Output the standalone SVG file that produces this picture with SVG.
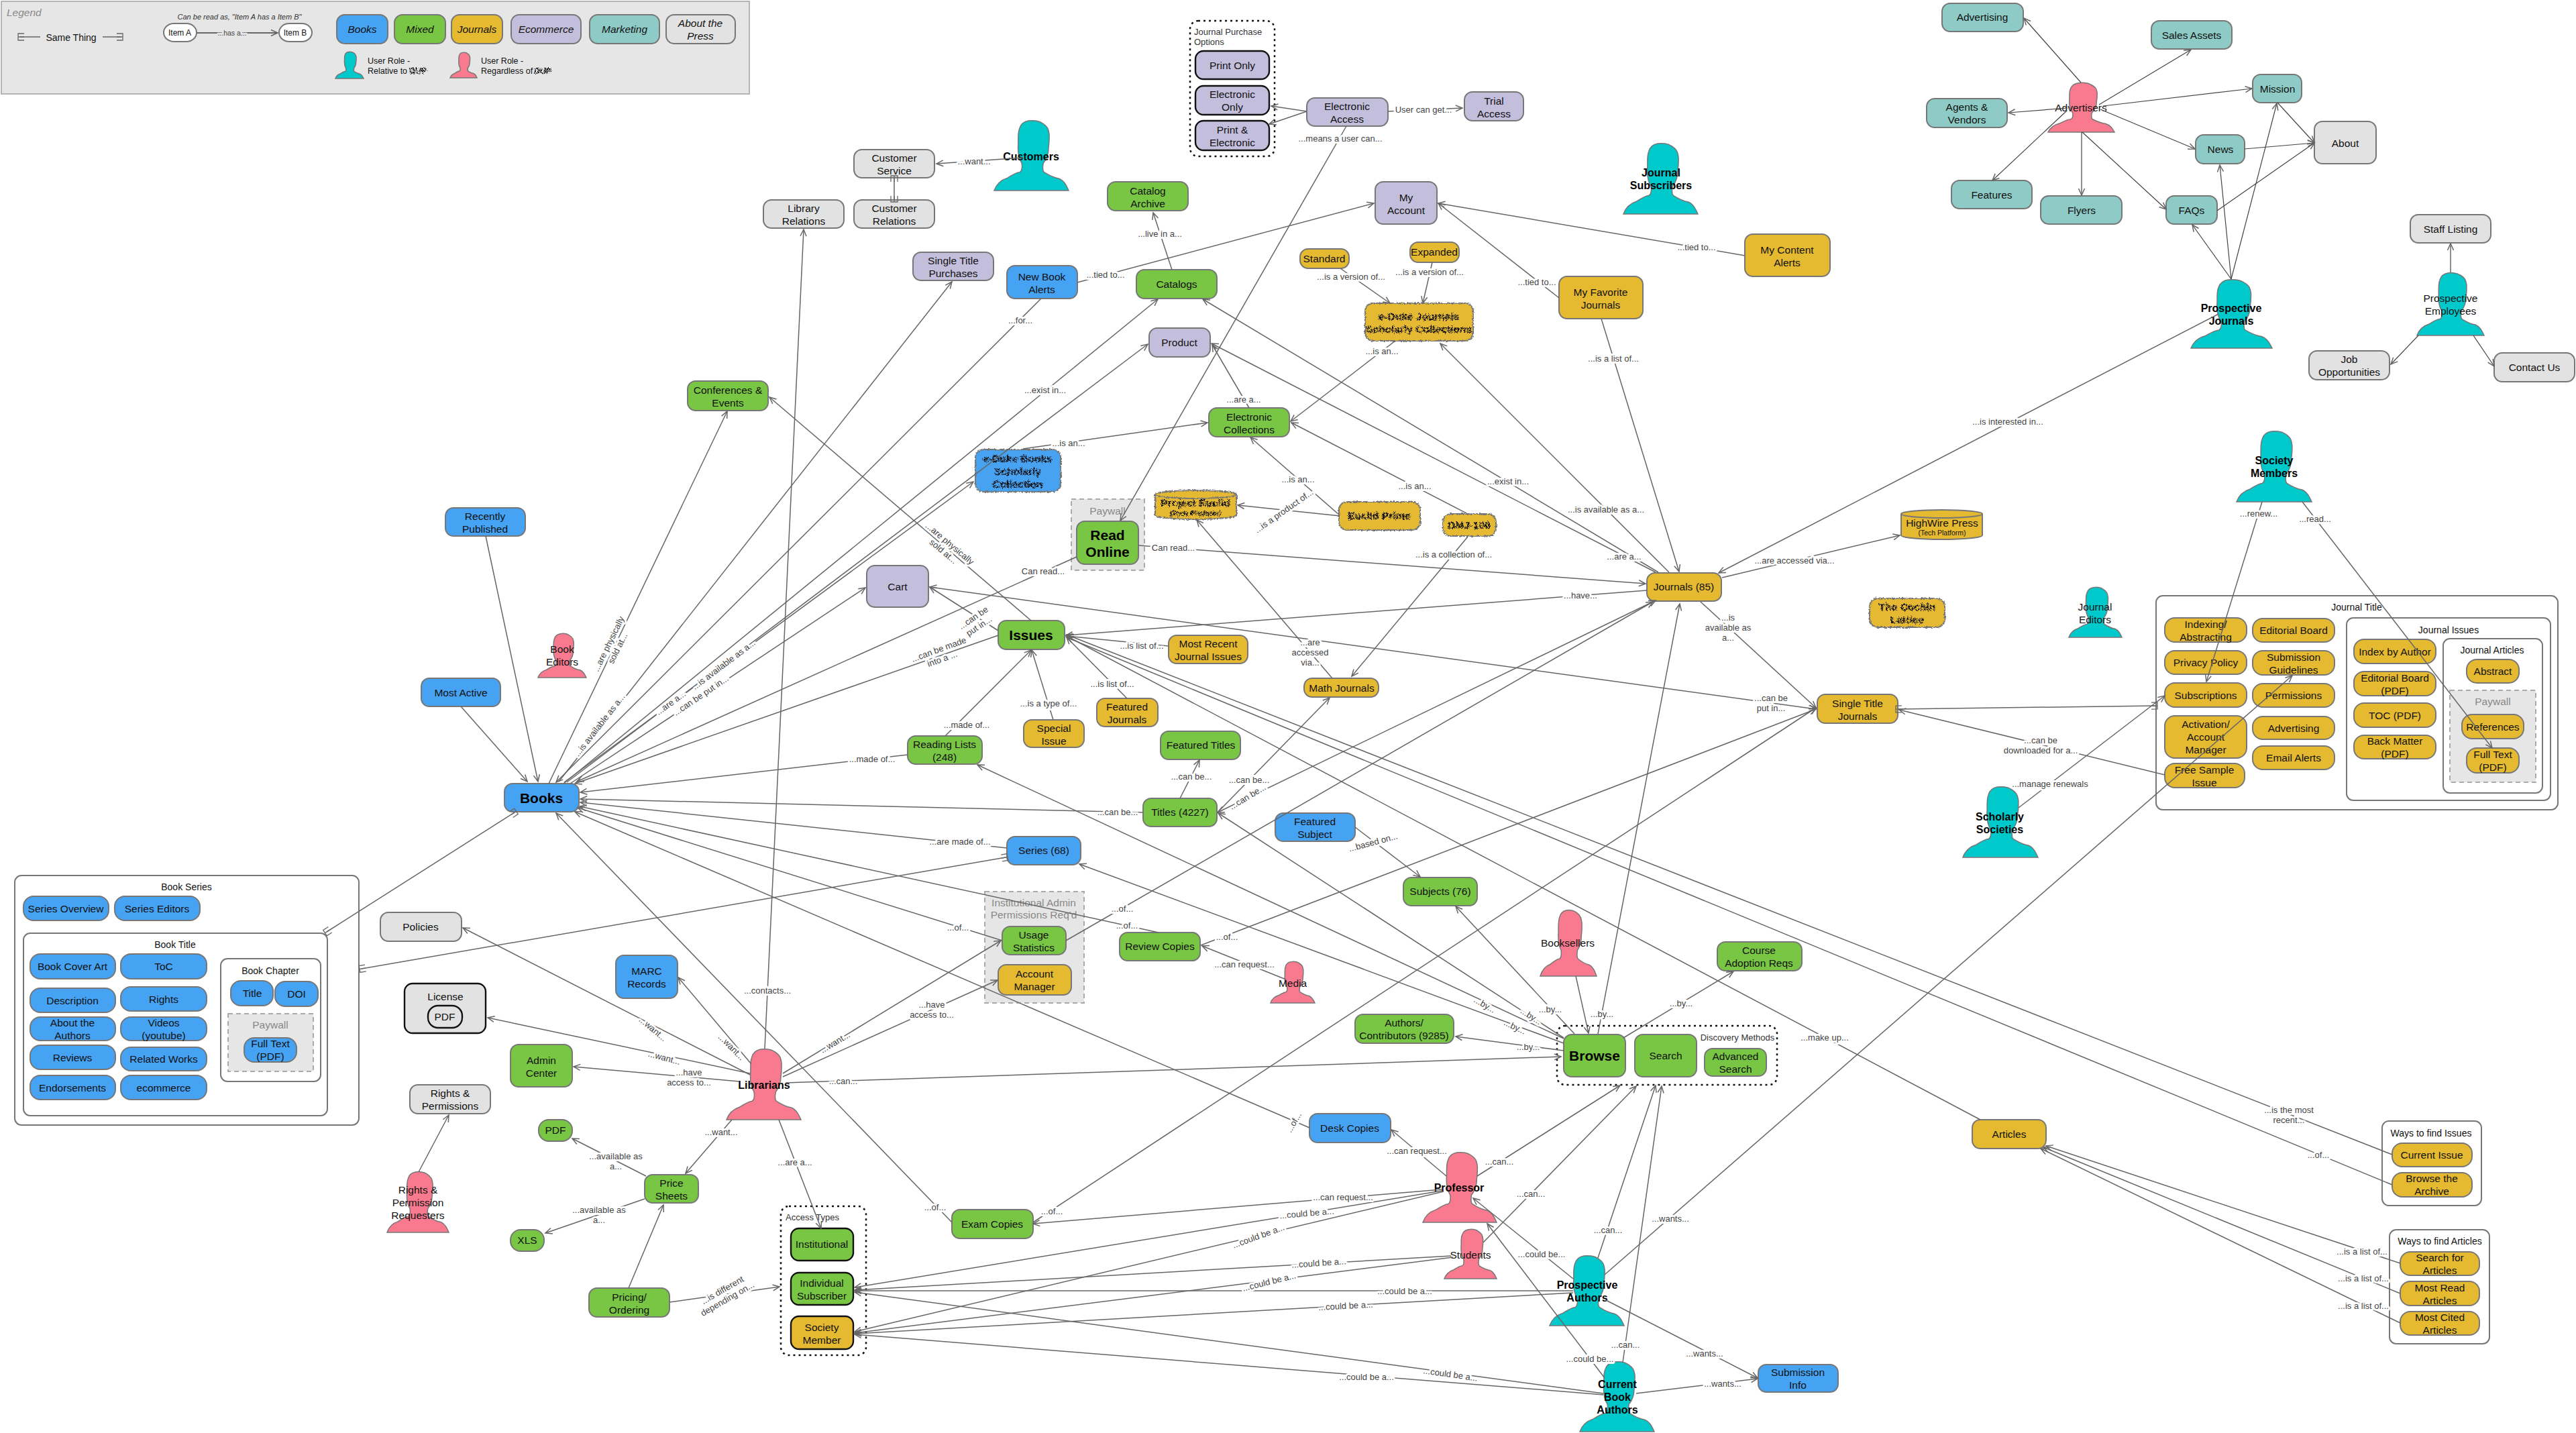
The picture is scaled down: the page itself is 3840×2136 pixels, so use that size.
<svg xmlns="http://www.w3.org/2000/svg" width="3840" height="2136" viewBox="0 0 3840 2136">
<style>
text{font-family:"Liberation Sans",Arial,sans-serif;font-size:15.5px;fill:#111;text-anchor:middle}
rect.n{stroke:#777;stroke-width:2;rx:12px;ry:12px}
rect.p{rx:15px;ry:15px}
.b{fill:#46a2f2}.g{fill:#78c644}.y{fill:#e5b930}.e{fill:#c3bedb}.m{fill:#8ecbc6}.a{fill:#e2e2e2}.w{fill:#fff}
rect.k,path.k{stroke:#111;stroke-width:2.4}
rect.box{fill:#fff;stroke:#777;stroke-width:2;rx:10px;ry:10px}
rect.dot{fill:#fff;stroke:#111;stroke-width:2.5;stroke-dasharray:3 5;rx:12px;ry:12px}
rect.pay{fill:#e6e6e6;stroke:#aaa;stroke-width:2;stroke-dasharray:7 5}
.h{font-size:14px}.cap{font-size:13px;fill:#333}.gr{fill:#888}.sm{font-size:10.5px}
.bd{font-weight:bold;font-size:16px;fill:#000}.big{font-weight:bold;font-size:21px;fill:#000}
.it{font-style:italic}.st{text-anchor:start}
.pc{fill:#00c9cc}.pk{fill:#f97a8e}
.per{stroke:#777;stroke-width:1.5}
.per path,.per use{vector-effect:non-scaling-stroke}
#connectors path{fill:none;stroke:#666;stroke-width:1.5;marker-end:url(#arr)}
#connectors path.s,#legend path.s{fill:none;stroke:#666;stroke-width:1.5;marker-start:url(#same);marker-end:url(#same)}
#connectors path.f{stroke:#444;stroke-width:1.2}
#connectors path.d{marker-start:url(#arrS)}
#connectors text,#legend text.l{font-size:13px;fill:#444;stroke:#fff;stroke-width:6px;paint-order:stroke;stroke-linejoin:round}
#legend text.l{stroke:#e6e6e6;font-size:10.5px}
.nz{filter:url(#noise)}
.nzt{filter:url(#noiseT);font-weight:bold}
</style>
<defs>
<marker id="arr" markerUnits="userSpaceOnUse" markerWidth="14" markerHeight="12" refX="11" refY="6" orient="auto"><path d="M1,1.5 L11,6 L1,10.5" fill="none" stroke="#666" stroke-width="1.5"/></marker>
<marker id="arrS" markerUnits="userSpaceOnUse" markerWidth="14" markerHeight="12" refX="3" refY="6" orient="auto"><path d="M13,1.5 L3,6 L13,10.5" fill="none" stroke="#666" stroke-width="1.5"/></marker>
<marker id="same" markerUnits="userSpaceOnUse" markerWidth="14" markerHeight="14" refX="7" refY="7" orient="auto-start-reverse"><path d="M1,2 H10 V12 H1 M1,7 H10" fill="none" stroke="#666" stroke-width="1.3"/></marker>
<symbol id="person" viewBox="0 0 100 100" preserveAspectRatio="none" overflow="visible"><path vector-effect="non-scaling-stroke" d="M0,100C3,91 9,85 18,82C24,78 30,74 34,74C37,73 38,67 37,61C34,56 32,47 32,39C33,29 31,20 34,12C36,5 40,2 46,1C52,0 60,1 64,4C72,9 73,13 74,21C74,28 74,32 73,39C73,48 70,56 66,61C65,67 65,72 67,74C73,78 79,82 87,83C94,86 97,93 100,100Z"/></symbol>
<filter id="noise" x="-5%" y="-10%" width="110%" height="120%"><feTurbulence type="fractalNoise" baseFrequency="0.45" numOctaves="1" seed="4"/><feDisplacementMap in="SourceGraphic" scale="5" xChannelSelector="R" yChannelSelector="G"/></filter>
<filter id="noiseT" x="-5%" y="-10%" width="110%" height="120%"><feTurbulence type="fractalNoise" baseFrequency="0.7" numOctaves="2" seed="9"/><feDisplacementMap in="SourceGraphic" scale="7" xChannelSelector="R" yChannelSelector="G"/></filter>
</defs>
<rect width="3840" height="2136" fill="#fff"/>

<g id="legend">
<rect x="2" y="2" width="1115" height="138" fill="#e6e6e6" stroke="#b5b5b5" stroke-width="2"/>
<text class="it gr st" x="10" y="24" font-size="14">Legend</text>
<path class="s" d="M30,55H60M153,55H180"/>
<text x="106" y="61" style="font-size:14px">Same Thing</text>
<text class="it" x="357" y="29" style="font-size:11px;fill:#333">Can be read as, "Item A has a Item B"</text>
<path d="M293,49H414" fill="none" stroke="#666" stroke-width="2" marker-end="url(#arr)"/>
<rect class="n w p" x="244" y="35" width="49" height="27"/><text x="268" y="53" style="font-size:12px">Item A</text>
<rect class="n w p" x="416" y="35" width="49" height="27"/><text x="440" y="53" style="font-size:12px">Item B</text>
<text class="l" x="346" y="53">...has a...</text>
<rect class="n b" x="502" y="22" width="76" height="43"/><text class="it" x="540" y="49">Books</text>
<rect class="n g" x="588" y="22" width="76" height="43"/><text class="it" x="626" y="49">Mixed</text>
<rect class="n y" x="673" y="22" width="76" height="43"/><text class="it" x="711" y="49">Journals</text>
<rect class="n e" x="762" y="22" width="104" height="43"/><text class="it" x="814" y="49">Ecommerce</text>
<rect class="n m" x="879" y="22" width="104" height="43"/><text class="it" x="931" y="49">Marketing</text>
<rect class="n a" x="993" y="22" width="103" height="43"/><text class="it" x="1044" y="40">About the<tspan x="1044" dy="19">Press</tspan></text>
<g class="per pc"><use href="#person" x="500" y="77" width="42" height="40"/></g>
<text class="st" x="548" y="95" style="font-size:12.5px">User Role -<tspan x="548" dy="15">Relative to</tspan></text>
<text class="st nzt" x="610" y="110" style="font-size:12.5px">DUP</text>
<g class="per pk"><use href="#person" x="671" y="78" width="40" height="38"/></g>
<text class="st" x="717" y="95" style="font-size:12.5px">User Role -<tspan x="717" dy="15">Regardless of</tspan></text>
<text class="st nzt" x="796" y="110" style="font-size:12.5px">DUP</text>
</g>

<g id="nodes">
<g id="journal-purchase-options"><rect class="dot" x="1774" y="31" width="126" height="202"/><text class="cap st" x="1780" y="52">Journal Purchase<tspan x="1780" dy="15">Options</tspan></text></g>
<g id="print-only"><rect class="n e k" x="1782" y="76" width="110" height="42"/><text x="1837" y="103">Print Only</text></g>
<g id="electronic-only"><rect class="n e k" x="1782" y="128" width="110" height="43"/><text x="1837" y="146">Electronic<tspan x="1837" dy="19">Only</tspan></text></g>
<g id="print-electronic"><rect class="n e k" x="1782" y="180" width="110" height="44"/><text x="1837" y="199">Print &amp;<tspan x="1837" dy="19">Electronic</tspan></text></g>
<g id="electronic-access"><rect class="n e" x="1948" y="146" width="121" height="42"/><text x="2008" y="164">Electronic<tspan x="2008" dy="19">Access</tspan></text></g>
<g id="trial-access"><rect class="n e" x="2183" y="137" width="88" height="43"/><text x="2227" y="156">Trial<tspan x="2227" dy="19">Access</tspan></text></g>
<g id="customer-service"><rect class="n a" x="1273" y="223" width="120" height="42"/><text x="1333" y="241">Customer<tspan x="1333" dy="19">Service</tspan></text></g>
<g id="customer-relations"><rect class="n a" x="1273" y="298" width="120" height="42"/><text x="1333" y="316">Customer<tspan x="1333" dy="19">Relations</tspan></text></g>
<g id="library-relations"><rect class="n a" x="1138" y="298" width="120" height="42"/><text x="1198" y="316">Library<tspan x="1198" dy="19">Relations</tspan></text></g>
<g id="catalog-archive"><rect class="n g" x="1651" y="271" width="120" height="43"/><text x="1711" y="290">Catalog<tspan x="1711" dy="19">Archive</tspan></text></g>
<g id="my-account"><rect class="n e" x="2050" y="271" width="92" height="63"/><text x="2096" y="300">My<tspan x="2096" dy="19">Account</tspan></text></g>
<g id="single-title-purchases"><rect class="n e" x="1361" y="376" width="120" height="42"/><text x="1421" y="394">Single Title<tspan x="1421" dy="19">Purchases</tspan></text></g>
<g id="new-book-alerts"><rect class="n b" x="1501" y="396" width="105" height="49"/><text x="1553" y="418">New Book<tspan x="1553" dy="19">Alerts</tspan></text></g>
<g id="catalogs"><rect class="n g" x="1694" y="402" width="120" height="43"/><text x="1754" y="429">Catalogs</text></g>
<g id="standard"><rect class="n y" x="1938" y="371" width="73" height="29"/><text x="1974" y="391">Standard</text></g>
<g id="expanded"><rect class="n y" x="2102" y="361" width="73" height="30"/><text x="2138" y="381">Expanded</text></g>
<g id="e-duke-journals"><rect class="n y nz" x="2035" y="452" width="161" height="56"/><text class="nzt" x="2115" y="477">e-Duke Journals<tspan x="2115" dy="19">Scholarly Collections</tspan></text></g>
<g id="my-favorite-journals"><rect class="n y" x="2324" y="412" width="125" height="63"/><text x="2386" y="441">My Favorite<tspan x="2386" dy="19">Journals</tspan></text></g>
<g id="my-content-alerts"><rect class="n y" x="2601" y="349" width="127" height="63"/><text x="2664" y="378">My Content<tspan x="2664" dy="19">Alerts</tspan></text></g>
<g id="product"><rect class="n e" x="1713" y="489" width="91" height="43"/><text x="1758" y="516">Product</text></g>
<g id="electronic-collections"><rect class="n g" x="1802" y="608" width="120" height="43"/><text x="1862" y="627">Electronic<tspan x="1862" dy="19">Collections</tspan></text></g>
<g id="conferences"><rect class="n g" x="1025" y="568" width="120" height="44"/><text x="1085" y="587">Conferences &amp;<tspan x="1085" dy="19">Events</tspan></text></g>
<g id="e-duke-books"><rect class="n b nz" x="1454" y="670" width="127" height="63"/><text class="nzt" x="1517" y="689">e-Duke Books<tspan x="1517" dy="19">Scholarly</tspan><tspan x="1517" dy="19">Collection</tspan></text></g>
<g id="paywall-read"><rect class="pay" x="1597" y="744" width="109" height="106"/><text class="gr" x="1651" y="767">Paywall</text></g>
<g id="read-online"><rect class="n g" x="1605" y="777" width="92" height="64"/><text class="big" x="1651" y="805">Read<tspan x="1651" dy="25">Online</tspan></text></g>
<g id="project-euclid"><path class="y nz" stroke="#777" stroke-width="2" d="M1722,737A60,6 0 0 1 1843,737V768A60,6 0 0 1 1722,768Z"/><path class="nz" fill="none" stroke="#777" stroke-width="2" d="M1722,737A60,6 0 0 0 1843,737"/><text class="nzt" x="1782" y="755">Project Euclid<tspan class="sm" x="1782" dy="14">(Tech Platform)</tspan></text></g>
<g id="euclid-prime"><rect class="n y nz" x="1996" y="748" width="121" height="42"/><text class="nzt" x="2056" y="774">Euclid Prime</text></g>
<g id="dmj-100"><rect class="n y nz" x="2151" y="766" width="79" height="33"/><text class="nzt" x="2190" y="788">DMJ-100</text></g>
<g id="cochin-lattice"><rect class="n y nz" x="2787" y="892" width="112" height="43"/><text class="nzt" x="2843" y="910">The Cochin<tspan x="2843" dy="19">Lattice</tspan></text></g>
<g id="highwire"><path class="y" stroke="#777" stroke-width="2" d="M2834,766A60,6 0 0 1 2955,766V798A60,6 0 0 1 2834,798Z"/><path fill="none" stroke="#777" stroke-width="2" d="M2834,766A60,6 0 0 0 2955,766"/><text x="2895" y="785">HighWire Press<tspan class="sm" x="2895" dy="13">(Tech Platform)</tspan></text></g>
<g id="cart"><rect class="n e" x="1292" y="843" width="92" height="62"/><text x="1338" y="880">Cart</text></g>
<g id="issues"><rect class="n g" x="1488" y="925" width="99" height="43"/><text class="big" x="1537" y="954">Issues</text></g>
<g id="most-recent"><rect class="n y" x="1742" y="947" width="118" height="42"/><text x="1801" y="965">Most Recent<tspan x="1801" dy="19">Journal Issues</tspan></text></g>
<g id="math-journals"><rect class="n y" x="1944" y="1011" width="111" height="28"/><text x="2000" y="1031">Math Journals</text></g>
<g id="featured-journals"><rect class="n y" x="1635" y="1041" width="91" height="42"/><text x="1680" y="1059">Featured<tspan x="1680" dy="19">Journals</tspan></text></g>
<g id="special-issue"><rect class="n y" x="1526" y="1073" width="90" height="41"/><text x="1571" y="1091">Special<tspan x="1571" dy="19">Issue</tspan></text></g>
<g id="reading-lists"><rect class="n g" x="1353" y="1097" width="111" height="42"/><text x="1408" y="1115">Reading Lists<tspan x="1408" dy="19">(248)</tspan></text></g>
<g id="featured-titles"><rect class="n g" x="1730" y="1090" width="119" height="42"/><text x="1790" y="1116">Featured Titles</text></g>
<g id="titles"><rect class="n g" x="1704" y="1190" width="110" height="42"/><text x="1759" y="1216">Titles (4227)</text></g>
<g id="featured-subject"><rect class="n b" x="1901" y="1212" width="119" height="42"/><text x="1960" y="1230">Featured<tspan x="1960" dy="19">Subject</tspan></text></g>
<g id="series"><rect class="n b" x="1501" y="1247" width="110" height="42"/><text x="1556" y="1273">Series (68)</text></g>
<g id="subjects"><rect class="n g" x="2092" y="1308" width="110" height="42"/><text x="2147" y="1334">Subjects (76)</text></g>
<g id="review-copies"><rect class="n g" x="1669" y="1390" width="120" height="42"/><text x="1729" y="1416">Review Copies</text></g>
<g id="institutional-admin"><rect class="pay" x="1468" y="1329" width="148" height="166"/><text class="gr" x="1541" y="1351">Institutional Admin<tspan x="1541" dy="18">Permissions Req'd</tspan></text></g>
<g id="usage-statistics"><rect class="n g" x="1494" y="1381" width="95" height="42"/><text x="1541" y="1399">Usage<tspan x="1541" dy="19">Statistics</tspan></text></g>
<g id="account-manager"><rect class="n y" x="1488" y="1438" width="109" height="45"/><text x="1542" y="1457">Account<tspan x="1542" dy="19">Manager</tspan></text></g>
<g id="journals"><rect class="n y" x="2455" y="854" width="111" height="42"/><text x="2510" y="880">Journals (85)</text></g>
<g id="single-title-journals"><rect class="n y" x="2709" y="1035" width="120" height="43"/><text x="2769" y="1054">Single Title<tspan x="2769" dy="19">Journals</tspan></text></g>

<g id="journal-title"><rect class="box" x="3214" y="888" width="599" height="319"/><text class="h" x="3513" y="910">Journal Title</text></g>
<g id="indexing"><rect class="n y p" x="3227" y="921" width="122" height="36"/><text x="3288" y="936">Indexing/<tspan x="3288" dy="19">Abstracting</tspan></text></g>
<g id="editorial-board"><rect class="n y p" x="3358" y="922" width="122" height="35"/><text x="3419" y="945">Editorial Board</text></g>
<g id="privacy-policy"><rect class="n y p" x="3227" y="970" width="122" height="35"/><text x="3288" y="993">Privacy Policy</text></g>
<g id="submission-guidelines"><rect class="n y p" x="3358" y="970" width="122" height="36"/><text x="3419" y="985">Submission<tspan x="3419" dy="19">Guidelines</tspan></text></g>
<g id="subscriptions"><rect class="n y p" x="3227" y="1018" width="122" height="36"/><text x="3288" y="1042">Subscriptions</text></g>
<g id="permissions"><rect class="n y p" x="3358" y="1019" width="122" height="35"/><text x="3419" y="1042">Permissions</text></g>
<g id="activation"><rect class="n y p" x="3227" y="1067" width="122" height="63"/><text x="3288" y="1085">Activation/<tspan x="3288" dy="19">Account</tspan><tspan x="3288" dy="19">Manager</tspan></text></g>
<g id="advertising-j"><rect class="n y p" x="3358" y="1068" width="122" height="34"/><text x="3419" y="1091">Advertising</text></g>
<g id="email-alerts"><rect class="n y p" x="3358" y="1112" width="122" height="35"/><text x="3419" y="1135">Email Alerts</text></g>
<g id="free-sample"><rect class="n y p" x="3227" y="1138" width="119" height="36"/><text x="3286" y="1153">Free Sample<tspan x="3286" dy="19">Issue</tspan></text></g>
<g id="journal-issues"><rect class="box" x="3498" y="921" width="304" height="272"/><text class="h" x="3650" y="944">Journal Issues</text></g>
<g id="index-author"><rect class="n y p" x="3509" y="953" width="122" height="36"/><text x="3570" y="977">Index by Author</text></g>
<g id="editorial-pdf"><rect class="n y p" x="3509" y="1001" width="122" height="36"/><text x="3570" y="1016">Editorial Board<tspan x="3570" dy="19">(PDF)</tspan></text></g>
<g id="toc-pdf"><rect class="n y p" x="3509" y="1048" width="122" height="36"/><text x="3570" y="1072">TOC (PDF)</text></g>
<g id="back-matter"><rect class="n y p" x="3509" y="1096" width="122" height="35"/><text x="3570" y="1110">Back Matter<tspan x="3570" dy="19">(PDF)</tspan></text></g>
<g id="journal-articles"><rect class="box" x="3642" y="952" width="148" height="230"/><text class="h" x="3715" y="974">Journal Articles</text></g>
<g id="abstract"><rect class="n y p" x="3677" y="983" width="78" height="35"/><text x="3716" y="1006">Abstract</text></g>
<g id="paywall-j"><rect class="pay" x="3652" y="1029" width="128" height="137"/><text class="gr" x="3716" y="1051">Paywall</text></g>
<g id="references"><rect class="n y p" x="3670" y="1065" width="92" height="36"/><text x="3716" y="1089">References</text></g>
<g id="full-text-j"><rect class="n y p" x="3677" y="1115" width="78" height="37"/><text x="3716" y="1130">Full Text<tspan x="3716" dy="19">(PDF)</tspan></text></g>

<g id="advertising"><rect class="n m" x="2895" y="5" width="121" height="42"/><text x="2955" y="31">Advertising</text></g>
<g id="sales-assets"><rect class="n m" x="3207" y="31" width="120" height="42"/><text x="3267" y="58">Sales Assets</text></g>
<g id="mission"><rect class="n m" x="3358" y="111" width="73" height="42"/><text x="3395" y="138">Mission</text></g>
<g id="agents"><rect class="n m" x="2872" y="147" width="120" height="43"/><text x="2932" y="165">Agents &amp;<tspan x="2932" dy="19">Vendors</tspan></text></g>
<g id="news"><rect class="n m" x="3273" y="201" width="73" height="43"/><text x="3310" y="228">News</text></g>
<g id="about"><rect class="n a" x="3450" y="181" width="92" height="63"/><text x="3496" y="219">About</text></g>
<g id="features"><rect class="n m" x="2909" y="269" width="120" height="42"/><text x="2969" y="296">Features</text></g>
<g id="flyers"><rect class="n m" x="3042" y="292" width="121" height="42"/><text x="3103" y="319">Flyers</text></g>
<g id="faqs"><rect class="n m" x="3229" y="292" width="76" height="42"/><text x="3267" y="319">FAQs</text></g>
<g id="staff-listing"><rect class="n a" x="3593" y="320" width="120" height="42"/><text x="3653" y="347">Staff Listing</text></g>
<g id="job-opportunities"><rect class="n a" x="3442" y="523" width="120" height="43"/><text x="3502" y="541">Job<tspan x="3502" dy="19">Opportunities</tspan></text></g>
<g id="contact-us"><rect class="n a" x="3718" y="526" width="120" height="43"/><text x="3778" y="553">Contact Us</text></g>

<g id="recently-published"><rect class="n b" x="664" y="757" width="119" height="42"/><text x="723" y="775">Recently<tspan x="723" dy="19">Published</tspan></text></g>
<g id="most-active"><rect class="n b" x="628" y="1011" width="118" height="42"/><text x="687" y="1038">Most Active</text></g>
<g id="books"><rect class="n b" x="752" y="1168" width="111" height="42"/><text class="big" x="807" y="1197">Books</text></g>
<g id="book-series"><rect class="box" x="22" y="1305" width="513" height="372"/><text class="h" x="278" y="1327">Book Series</text></g>
<g id="series-overview"><rect class="n b p" x="35" y="1336" width="127" height="36"/><text x="98" y="1360">Series Overview</text></g>
<g id="series-editors"><rect class="n b p" x="171" y="1336" width="127" height="36"/><text x="234" y="1360">Series Editors</text></g>
<g id="book-title"><rect class="box" x="35" y="1391" width="453" height="272"/><text class="h" x="261" y="1413">Book Title</text></g>
<g id="book-cover"><rect class="n b p" x="45" y="1422" width="127" height="37"/><text x="108" y="1446">Book Cover Art</text></g>
<g id="toc"><rect class="n b p" x="180" y="1422" width="128" height="37"/><text x="244" y="1446">ToC</text></g>
<g id="description"><rect class="n b p" x="45" y="1473" width="127" height="36"/><text x="108" y="1497">Description</text></g>
<g id="rights"><rect class="n b p" x="180" y="1471" width="128" height="36"/><text x="244" y="1495">Rights</text></g>
<g id="about-authors"><rect class="n b p" x="45" y="1516" width="127" height="35"/><text x="108" y="1530">About the<tspan x="108" dy="19">Authors</tspan></text></g>
<g id="videos"><rect class="n b p" x="180" y="1516" width="128" height="35"/><text x="244" y="1530">Videos<tspan x="244" dy="19">(youtube)</tspan></text></g>
<g id="reviews"><rect class="n b p" x="45" y="1558" width="127" height="36"/><text x="108" y="1582">Reviews</text></g>
<g id="related-works"><rect class="n b p" x="180" y="1561" width="128" height="35"/><text x="244" y="1584">Related Works</text></g>
<g id="endorsements"><rect class="n b p" x="45" y="1603" width="127" height="36"/><text x="108" y="1627">Endorsements</text></g>
<g id="ecommerce"><rect class="n b p" x="180" y="1603" width="128" height="36"/><text x="244" y="1627">ecommerce</text></g>
<g id="book-chapter"><rect class="box" x="329" y="1429" width="149" height="183"/><text class="h" x="403" y="1452">Book Chapter</text></g>
<g id="chapter-title"><rect class="n b p" x="344" y="1462" width="63" height="37"/><text x="376" y="1486">Title</text></g>
<g id="doi"><rect class="n b p" x="410" y="1463" width="64" height="37"/><text x="442" y="1487">DOI</text></g>
<g id="paywall-b"><rect class="pay" x="340" y="1511" width="127" height="86"/><text class="gr" x="403" y="1533">Paywall</text></g>
<g id="full-text-b"><rect class="n b p" x="364" y="1547" width="78" height="36"/><text x="403" y="1561">Full Text<tspan x="403" dy="19">(PDF)</tspan></text></g>
<g id="policies"><rect class="n a" x="567" y="1360" width="121" height="43"/><text x="627" y="1387">Policies</text></g>
<g id="marc"><rect class="n b" x="918" y="1424" width="92" height="64"/><text x="964" y="1453">MARC<tspan x="964" dy="19">Records</tspan></text></g>
<g id="license"><rect class="n a k" x="603" y="1466" width="121" height="74"/><text x="664" y="1491">License</text></g>
<g id="license-pdf"><rect class="n a k p" x="638" y="1499" width="51" height="33"/><text x="663" y="1521">PDF</text></g>
<g id="admin-center"><rect class="n g" x="761" y="1557" width="92" height="63"/><text x="807" y="1586">Admin<tspan x="807" dy="19">Center</tspan></text></g>
<g id="rights-permissions"><rect class="n a" x="611" y="1617" width="120" height="43"/><text x="671" y="1635">Rights &amp;<tspan x="671" dy="19">Permissions</tspan></text></g>
<g id="pdf"><rect class="n g p" x="803" y="1669" width="50" height="32"/><text x="828" y="1690">PDF</text></g>
<g id="price-sheets"><rect class="n g" x="961" y="1751" width="80" height="42"/><text x="1001" y="1769">Price<tspan x="1001" dy="19">Sheets</tspan></text></g>
<g id="xls"><rect class="n g p" x="761" y="1833" width="50" height="32"/><text x="786" y="1854">XLS</text></g>
<g id="pricing"><rect class="n g" x="878" y="1920" width="120" height="43"/><text x="938" y="1939">Pricing/<tspan x="938" dy="19">Ordering</tspan></text></g>
<g id="access-types"><rect class="dot" x="1164" y="1798" width="127" height="222"/><text class="cap st" x="1171" y="1819">Access Types</text></g>
<g id="institutional"><rect class="n g k" x="1179" y="1831" width="93" height="48"/><text x="1225" y="1860">Institutional</text></g>
<g id="individual"><rect class="n g k" x="1179" y="1897" width="93" height="48"/><text x="1225" y="1918">Individual<tspan x="1225" dy="19">Subscriber</tspan></text></g>
<g id="society-member"><rect class="n y k" x="1179" y="1962" width="93" height="49"/><text x="1225" y="1984">Society<tspan x="1225" dy="19">Member</tspan></text></g>

<g id="authors"><rect class="n g" x="2020" y="1512" width="147" height="43"/><text x="2093" y="1530">Authors/<tspan x="2093" dy="19">Contributors (9285)</tspan></text></g>
<g id="discovery"><rect class="dot" x="2321" y="1529" width="328" height="88"/><text class="cap" x="2590" y="1551">Discovery Methods</text></g>
<g id="browse"><rect class="n g" x="2331" y="1542" width="92" height="63"/><text class="big" x="2377" y="1581">Browse</text></g>
<g id="search"><rect class="n g" x="2437" y="1542" width="92" height="63"/><text x="2483" y="1579">Search</text></g>
<g id="advanced-search"><rect class="n g" x="2541" y="1563" width="92" height="41"/><text x="2587" y="1580">Advanced<tspan x="2587" dy="19">Search</tspan></text></g>
<g id="course-adoption"><rect class="n g" x="2560" y="1404" width="126" height="43"/><text x="2622" y="1422">Course<tspan x="2622" dy="19">Adoption Reqs</tspan></text></g>
<g id="desk-copies"><rect class="n b" x="1952" y="1660" width="121" height="43"/><text x="2012" y="1687">Desk Copies</text></g>
<g id="exam-copies"><rect class="n g" x="1419" y="1803" width="121" height="43"/><text x="1479" y="1830">Exam Copies</text></g>
<g id="submission-info"><rect class="n b" x="2621" y="2034" width="119" height="41"/><text x="2680" y="2051">Submission<tspan x="2680" dy="19">Info</tspan></text></g>
<g id="articles"><rect class="n y" x="2940" y="1669" width="110" height="43"/><text x="2995" y="1696">Articles</text></g>
<g id="ways-issues"><rect class="box" x="3551" y="1671" width="148" height="126"/><text class="h" x="3624" y="1694">Ways to find Issues</text></g>
<g id="current-issue"><rect class="n y p" x="3566" y="1704" width="119" height="35"/><text x="3625" y="1727">Current Issue</text></g>
<g id="browse-archive"><rect class="n y p" x="3566" y="1748" width="119" height="36"/><text x="3625" y="1762">Browse the<tspan x="3625" dy="19">Archive</tspan></text></g>
<g id="ways-articles"><rect class="box" x="3562" y="1833" width="149" height="170"/><text class="h" x="3637" y="1855">Ways to find Articles</text></g>
<g id="search-articles"><rect class="n y p" x="3578" y="1866" width="118" height="35"/><text x="3637" y="1880">Search for<tspan x="3637" dy="19">Articles</tspan></text></g>
<g id="most-read"><rect class="n y p" x="3578" y="1910" width="118" height="36"/><text x="3637" y="1925">Most Read<tspan x="3637" dy="19">Articles</tspan></text></g>
<g id="most-cited"><rect class="n y p" x="3578" y="1955" width="118" height="35"/><text x="3637" y="1969">Most Cited<tspan x="3637" dy="19">Articles</tspan></text></g>

<g id="role-customers" class="per pc"><use href="#person" x="1482" y="179" width="111" height="105"/><text class="bd" x="1537" y="239" stroke="none">Customers</text></g>
<g id="role-journal-subscribers" class="per pc"><use href="#person" x="2420" y="213" width="111" height="106"/><text class="bd" x="2476" y="263" stroke="none">Journal<tspan x="2476" dy="19">Subscribers</tspan></text></g>
<g id="role-advertisers" class="per pk"><use href="#person" x="3053" y="123" width="99" height="74"/><text x="3102" y="166" stroke="none">Advertisers</text></g>
<g id="role-prospective-journals" class="per pc"><use href="#person" x="3266" y="416" width="121" height="103"/><text class="bd" x="3326" y="465" stroke="none">Prospective<tspan x="3326" dy="19">Journals</tspan></text></g>
<g id="role-prospective-employees" class="per pc"><use href="#person" x="3603" y="406" width="100" height="94"/><text x="3653" y="450" stroke="none">Prospective<tspan x="3653" dy="19">Employees</tspan></text></g>
<g id="role-society-members" class="per pc"><use href="#person" x="3334" y="642" width="112" height="106"/><text class="bd" x="3390" y="692" stroke="none">Society<tspan x="3390" dy="19">Members</tspan></text></g>
<g id="role-journal-editors" class="per pc"><use href="#person" x="3084" y="875" width="79" height="75"/><text x="3123" y="910" stroke="none">Journal<tspan x="3123" dy="19">Editors</tspan></text></g>
<g id="role-scholarly-societies" class="per pc"><use href="#person" x="2926" y="1172" width="112" height="106"/><text class="bd" x="2981" y="1223" stroke="none">Scholarly<tspan x="2981" dy="19">Societies</tspan></text></g>
<g id="role-book-editors" class="per pk"><use href="#person" x="802" y="944" width="72" height="66"/><text x="838" y="973" stroke="none">Book<tspan x="838" dy="19">Editors</tspan></text></g>
<g id="role-booksellers" class="per pk"><use href="#person" x="2296" y="1356" width="84" height="99"/><text x="2337" y="1411" stroke="none">Booksellers</text></g>
<g id="role-media" class="per pk"><use href="#person" x="1894" y="1433" width="66" height="62"/><text x="1927" y="1471" stroke="none">Media</text></g>
<g id="role-librarians" class="per pk"><use href="#person" x="1083" y="1563" width="111" height="106"/><text class="bd" x="1139" y="1623" stroke="none">Librarians</text></g>
<g id="role-rights-requesters" class="per pk"><use href="#person" x="577" y="1746" width="92" height="91"/><text x="623" y="1779" stroke="none">Rights &amp;<tspan x="623" dy="19">Permission</tspan><tspan x="623" dy="19">Requesters</tspan></text></g>
<g id="role-professor" class="per pk"><use href="#person" x="2121" y="1717" width="110" height="105"/><text class="bd" x="2175" y="1776" stroke="none">Professor</text></g>
<g id="role-students" class="per pk"><use href="#person" x="2153" y="1832" width="78" height="74"/><text x="2192" y="1876" stroke="none">Students</text></g>
<g id="role-prospective-authors" class="per pc"><use href="#person" x="2310" y="1871" width="111" height="105"/><text class="bd" x="2366" y="1921" stroke="none">Prospective<tspan x="2366" dy="19">Authors</tspan></text></g>
<g id="role-current-book-authors" class="per pc"><use href="#person" x="2355" y="2029" width="111" height="105"/><text class="bd" x="2411" y="2069" stroke="none">Current<tspan x="2411" dy="19">Book</tspan><tspan x="2411" dy="19">Authors</tspan></text></g>
</g>

<g id="connectors">
<path d="M1525,235L1396,244"/>
<path class="s" d="M1333,265L1333,298"/>
<path d="M1948,166L1895,158"/>
<path d="M1948,166L1892,185"/>
<path d="M2069,166L2180,161"/>
<path d="M2007,188L1670,776"/>
<path d="M1747,402L1719,317"/>
<path d="M1606,421L2048,303"/>
<path d="M2324,444L2144,303"/>
<path d="M2601,381L2144,303"/>
<path d="M1998,400L2072,452"/>
<path d="M2135,391L2121,452"/>
<path d="M2080,508L1924,628"/>
<path d="M2387,475L2503,852"/>
<path d="M2488,853L2147,512"/>
<path d="M2472,853L1793,446"/>
<path d="M2468,853L1806,512"/>
<path d="M1862,608L1807,514"/>
<path d="M845,1166L1711,513"/>
<path d="M840,1168L1726,446"/>
<path d="M833,1165L1419,420"/>
<path d="M818,1168L1084,613"/>
<path d="M1552,445L829,1166"/>
<path d="M1525,669L1800,630"/>
<path d="M841,1166L1451,718"/>
<path d="M850,1168L1290,876"/>
<path d="M1488,947L857,1168"/>
<path d="M1605,830L860,1165"/>
<path d="M1537,925L1147,592"/>
<path d="M1488,940L1386,875"/>
<path d="M2455,880L1589,947"/>
<path d="M1742,963L1589,948"/>
<path d="M1680,1041L1590,950"/>
<path d="M1570,1073L1538,969"/>
<path d="M1409,1097L1537,969"/>
<path d="M1353,1125L865,1181"/>
<path d="M1704,1211L865,1191"/>
<path d="M1501,1264L865,1196"/>
<path d="M1727,1390L864,1202"/>
<path d="M1494,1402L861,1204"/>
<path d="M1952,1681L857,1210"/>
<path d="M1419,1822L829,1212"/>
<path d="M1540,1822L2707,1055"/>
<path d="M1790,1409L2707,1057"/>
<path d="M1589,1402L2464,897"/>
<path d="M1167,1600L1492,1402"/>
<path d="M1167,1605L1487,1461"/>
<path d="M1118,1602L690,1383"/>
<path d="M1118,1600L727,1517"/>
<path d="M1120,1586L1011,1457"/>
<path d="M1140,1563L1198,342"/>
<path d="M1102,1612L855,1590"/>
<path d="M1171,1614L2327,1575"/>
<path d="M1091,1669L1022,1749"/>
<path d="M1161,1669L1224,1831"/>
<path d="M963,1753L853,1697"/>
<path d="M961,1787L813,1838"/>
<path d="M937,1920L989,1796"/>
<path d="M998,1941L1162,1918"/>
<path d="M624,1747L669,1662"/>
<path class="s" d="M487,1389L767,1211"/>
<path class="s" d="M539,1444L1499,1278"/>
<path d="M724,799L802,1165"/>
<path d="M687,1053L786,1165"/>
<path d="M1759,1190L1788,1133"/>
<path d="M1815,1211L1982,1040"/>
<path class="d" d="M1815,1211L2468,895"/>
<path d="M2331,1566L2170,1545"/>
<path d="M2331,1555L1609,1288"/>
<path d="M2331,1548L1457,1140"/>
<path d="M2331,1547L1816,1212"/>
<path d="M2347,1541L2170,1351"/>
<path d="M2349,1455L2368,1540"/>
<path d="M2382,1541L2504,900"/>
<path d="M2420,1547L2584,1448"/>
<path d="M2952,1669L1590,948"/>
<path d="M3566,1721L1590,946"/>
<path d="M3566,1766L1590,950"/>
<path d="M3578,1883L3050,1708"/>
<path d="M3578,1928L3046,1710"/>
<path d="M3578,1972L3042,1712"/>
<path d="M1986,1011L1784,775"/>
<path d="M1997,769L1845,753"/>
<path d="M1997,768L1864,652"/>
<path d="M2186,765L1925,630"/>
<path d="M2188,800L2015,1008"/>
<path class="d" d="M2707,1057L1386,875"/>
<path d="M2535,897L2707,1055"/>
<path d="M2567,861L2832,798"/>
<path d="M1697,813L2453,870"/>
<path d="M3307,468L2562,854"/>
<path class="s" d="M2829,1057L3213,1052"/>
<path d="M3227,1155L2831,1058"/>
<path d="M3009,1204L3227,1037"/>
<path d="M3372,748L3289,1016"/>
<path d="M3432,748L3715,1115"/>
<path d="M2392,1900L3417,1007"/>
<path d="M2394,1938L2620,2054"/>
<path d="M2439,2077L2620,2055"/>
<path d="M2382,1875L2468,1618"/>
<path d="M2419,2031L2477,1619"/>
<path d="M2202,1753L2415,1618"/>
<path d="M2211,1852L2439,1619"/>
<path d="M2156,1753L2074,1684"/>
<path d="M2149,1773L1540,1824"/>
<path d="M2149,1775L1274,1919"/>
<path d="M2152,1776L1274,1985"/>
<path d="M2163,1872L1274,1923"/>
<path d="M2166,1874L1274,1987"/>
<path d="M2345,1924L1274,1924"/>
<path d="M2345,1927L1274,1988"/>
<path d="M2390,2077L1274,1926"/>
<path d="M2390,2079L1274,1989"/>
<path d="M2345,1906L2196,1786"/>
<path d="M2392,2054L2217,1824"/>
<path d="M1917,1460L1792,1410"/>
<path d="M2020,1233L2117,1307"/>
<path class="f" d="M3102,123L3017,27"/>
<path class="f" d="M3129,156L3266,74"/>
<path class="f" d="M3135,158L3357,132"/>
<path class="f" d="M3082,161L2994,168"/>
<path class="f" d="M3131,163L3272,222"/>
<path class="f" d="M3081,165L2970,269"/>
<path class="f" d="M3103,197L3103,291"/>
<path class="f" d="M3104,197L3229,312"/>
<path class="f" d="M3346,222L3450,213"/>
<path class="f" d="M3395,153L3450,213"/>
<path class="f" d="M3305,314L3450,213"/>
<path class="f" d="M3326,416L3268,335"/>
<path class="f" d="M3326,416L3309,246"/>
<path class="f" d="M3326,416L3394,154"/>
<path class="f" d="M3653,406L3653,363"/>
<path class="f" d="M3605,500L3564,543"/>
<path class="f" d="M3687,500L3718,546"/>

<text x="1452" y="245">...want...</text>
<text x="2122" y="168">User can get...</text>
<text x="1998" y="211">...means a user can...</text>
<text x="1729" y="353">...live in a...</text>
<text x="1648" y="414">...tied to...</text>
<text x="2291" y="425">...tied to...</text>
<text x="2529" y="373">...tied to...</text>
<text x="2014" y="417">...is a version of...</text>
<text x="2131" y="410">...is a version of...</text>
<text x="2060" y="528">...is an...</text>
<text x="2405" y="539">...is a list of...</text>
<text x="2394" y="764">...is available as a...</text>
<text x="2248" y="722">...exist in...</text>
<text x="2421" y="834">...are a...</text>
<text x="1854" y="600">...are a...</text>
<text x="1558" y="586">...exist in...</text>
<text x="1521" y="482">...for...</text>
<text x="1593" y="665">...is an...</text>
<text x="894" y="1085" transform="rotate(-52 894 1081)">...is available as a...</text>
<text x="914" y="960" transform="rotate(-64 914 963)">...are physically<tspan x="914" dy="15">sold at...</tspan></text>
<text x="1000" y="1052" transform="rotate(-36 1000 1048)">...are a...</text>
<text x="1079" y="995" transform="rotate(-37 1079 991)">...is available as a...</text>
<text x="1045" y="1041" transform="rotate(-34 1045 1037)">...can be put in...</text>
<text x="1402" y="972" transform="rotate(-20 1402 975)">...can be made<tspan x="1402" dy="15">into a ...</tspan></text>
<text x="1555" y="856">Can read...</text>
<text x="1411" y="813" transform="rotate(40 1411 816)">...are physically<tspan x="1411" dy="15">sold at...</tspan></text>
<text x="1455" y="924" transform="rotate(-34 1455 927)">...can be<tspan x="1455" dy="15">put in...</tspan></text>
<text x="2356" y="892">...have...</text>
<text x="1702" y="967">...is list of...</text>
<text x="1658" y="1024">...is list of...</text>
<text x="1563" y="1053">...is a type of...</text>
<text x="1441" y="1085">...made of...</text>
<text x="1300" y="1136">...made of...</text>
<text x="1666" y="1215">...can be...</text>
<text x="1431" y="1259">...are made of...</text>
<text x="1680" y="1384">...of...</text>
<text x="1428" y="1387">...of...</text>
<text x="1929" y="1677" transform="rotate(-60 1929 1673)">...of...</text>
<text x="1394" y="1804">...of...</text>
<text x="1568" y="1810">...of...</text>
<text x="1829" y="1401">...of...</text>
<text x="1673" y="1359">...of...</text>
<text x="1245" y="1558" transform="rotate(-31 1245 1554)">...want...</text>
<text x="1389" y="1502">...have<tspan x="1389" dy="15">access to...</tspan></text>
<text x="973" y="1538" transform="rotate(40 973 1534)">...want...</text>
<text x="990" y="1581" transform="rotate(15 990 1577)">...want...</text>
<text x="1090" y="1565" transform="rotate(45 1090 1561)">...want...</text>
<text x="1144" y="1481">...contacts...</text>
<text x="1027" y="1603">...have<tspan x="1027" dy="15">access to...</tspan></text>
<text x="1257" y="1616">...can...</text>
<text x="1075" y="1692">...want...</text>
<text x="1185" y="1737">...are a...</text>
<text x="918" y="1728">...available as<tspan x="918" dy="15">a...</tspan></text>
<text x="893" y="1808">...available as<tspan x="893" dy="15">a...</tspan></text>
<text x="1082" y="1926" transform="rotate(-30 1082 1932)">...is different<tspan x="1082" dy="15">depending on...</tspan></text>
<text x="1776" y="1162">...can be...</text>
<text x="1862" y="1167">...can be...</text>
<text x="1860" y="1192" transform="rotate(-31 1860 1188)">...can be...</text>
<text x="2278" y="1565">...by...</text>
<text x="2258" y="1535" transform="rotate(25 2258 1531)">...by...</text>
<text x="2213" y="1502" transform="rotate(30 2213 1498)">...by...</text>
<text x="2282" y="1519" transform="rotate(33 2282 1515)">...by...</text>
<text x="2311" y="1509">...by...</text>
<text x="2388" y="1516">...by...</text>
<text x="2506" y="1500">...by...</text>
<text x="2720" y="1551">...make up...</text>
<text x="3412" y="1659">...is the most<tspan x="3412" dy="15">recent...</tspan></text>
<text x="3456" y="1726">...of...</text>
<text x="3521" y="1870">...is a list of...</text>
<text x="3523" y="1910">...is a list of...</text>
<text x="3523" y="1951">...is a list of...</text>
<text x="1953" y="962">...are<tspan x="1953" dy="15">accessed</tspan><tspan x="1953" dy="15">via...</tspan></text>
<text x="1914" y="766" transform="rotate(-35 1914 762)">...is a product of...</text>
<text x="1935" y="719">...is an...</text>
<text x="2109" y="729">...is an...</text>
<text x="2167" y="831">...is a collection of...</text>
<text x="2640" y="1045">...can be<tspan x="2640" dy="15">put in...</tspan></text>
<text x="2576" y="925">...is<tspan x="2576" dy="15">available as</tspan><tspan x="2576" dy="15">a...</tspan></text>
<text x="2675" y="840">...are accessed via...</text>
<text x="1749" y="821">Can read...</text>
<text x="2993" y="633">...is interested in...</text>
<text x="3042" y="1108">...can be<tspan x="3042" dy="15">downloaded for a...</tspan></text>
<text x="3056" y="1173">...manage renewals</text>
<text x="3367" y="770">...renew...</text>
<text x="3451" y="778">...read...</text>
<text x="2490" y="1821">...wants...</text>
<text x="2541" y="2022">...wants...</text>
<text x="2568" y="2067">...wants...</text>
<text x="2397" y="1838">...can...</text>
<text x="2423" y="2009">...can...</text>
<text x="2235" y="1736">...can...</text>
<text x="2282" y="1784">...can...</text>
<text x="2112" y="1720">...can request...</text>
<text x="2002" y="1789">...can request...</text>
<text x="1948" y="1813" transform="rotate(-5 1948 1809)">...could be a...</text>
<text x="1876" y="1847" transform="rotate(-20 1876 1843)">...could be a...</text>
<text x="1966" y="1887" transform="rotate(-4 1966 1883)">...could be a...</text>
<text x="1892" y="1915" transform="rotate(-14 1892 1911)">...could be a...</text>
<text x="2094" y="1929">...could be a...</text>
<text x="2006" y="1951" transform="rotate(-3 2006 1947)">...could be a...</text>
<text x="2162" y="2053" transform="rotate(8 2162 2049)">...could be a...</text>
<text x="2037" y="2057">...could be a...</text>
<text x="2298" y="1874">...could be...</text>
<text x="2370" y="2030">...could be...</text>
<text x="1855" y="1442">...can request...</text>
<text x="2047" y="1260" transform="rotate(-15 2047 1256)">...based on...</text>
</g>
</svg>
